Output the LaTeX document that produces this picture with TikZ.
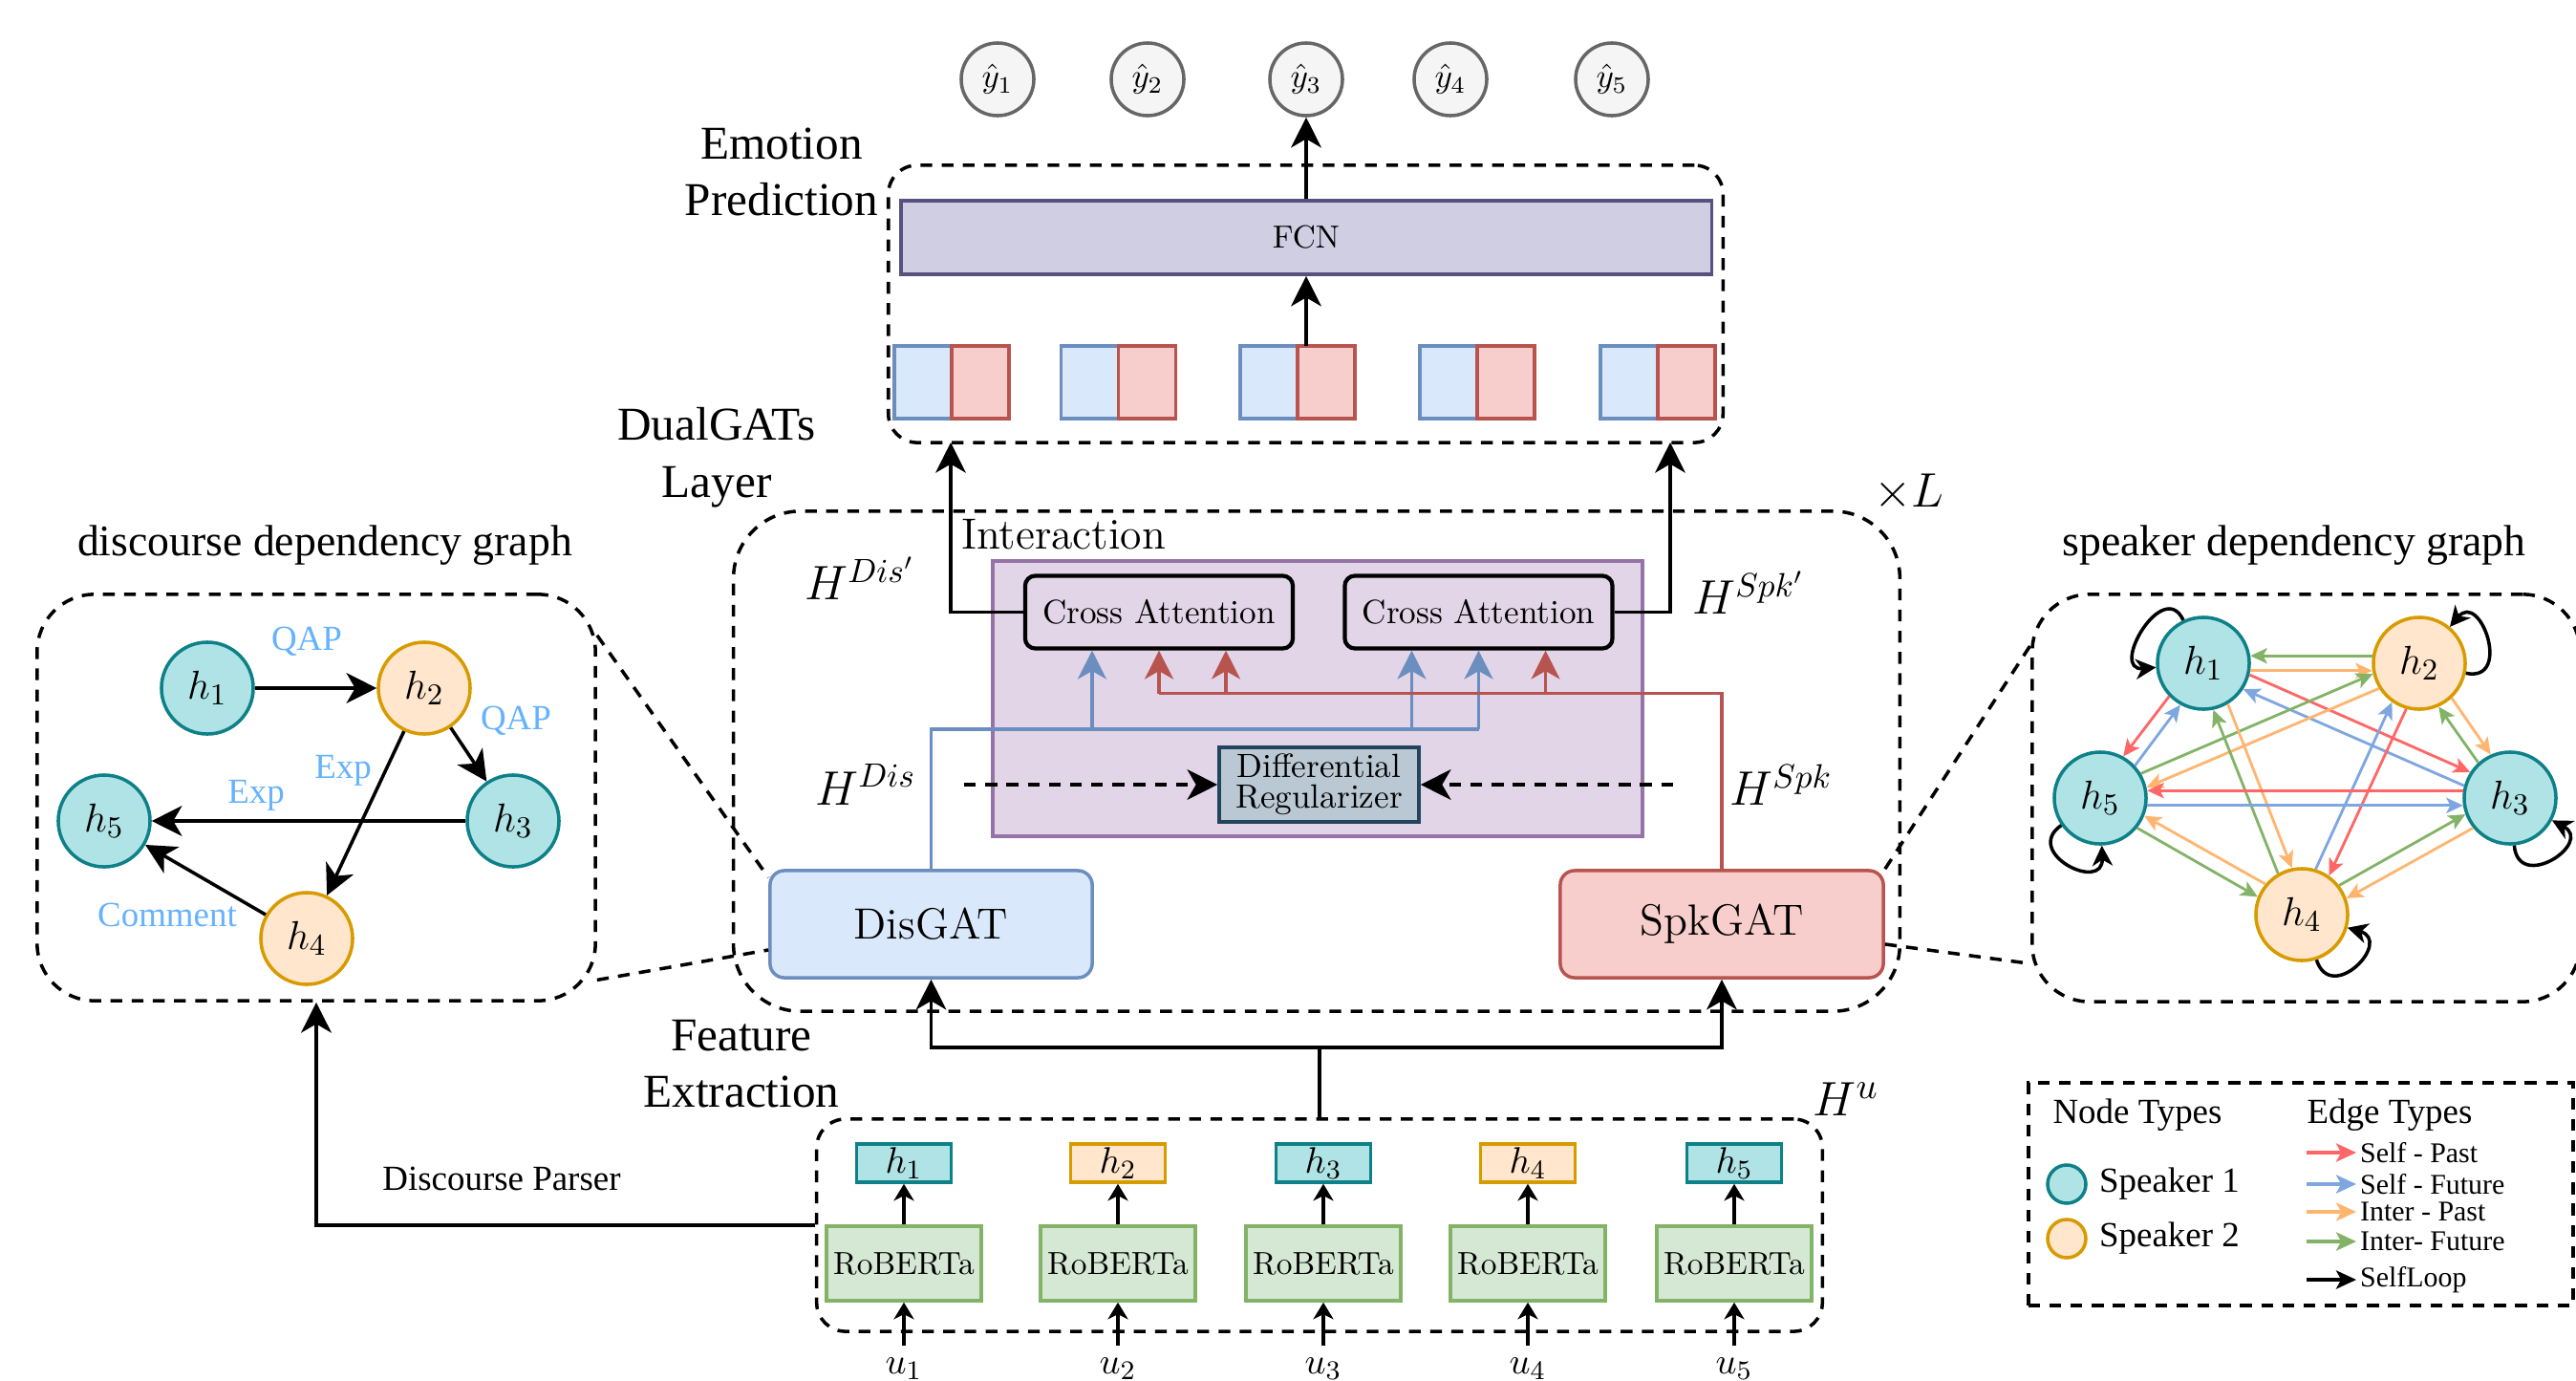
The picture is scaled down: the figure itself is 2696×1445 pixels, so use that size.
\documentclass[tikz,border=0pt]{standalone}
\usepackage{fontspec}
\newfontfamily\timesfont{Liberation Serif}
\usetikzlibrary{arrows.meta, positioning, calc}

\definecolor{tealfill}{HTML}{B0E3E6}
\definecolor{tealdraw}{HTML}{0E8088}
\definecolor{peachfill}{HTML}{FFE6CC}
\definecolor{peachdraw}{HTML}{D79B00}
\definecolor{disfill}{HTML}{DAE8FC}
\definecolor{disdraw}{HTML}{6C8EBF}
\definecolor{spkfill}{HTML}{F8CECC}
\definecolor{spkdraw}{HTML}{B85450}
\definecolor{fcnfill}{HTML}{D0CEE2}
\definecolor{fcndraw}{HTML}{56517E}
\definecolor{intfill}{HTML}{E1D5E7}
\definecolor{intdraw}{HTML}{9673A6}
\definecolor{regfill}{HTML}{BAC8D3}
\definecolor{regdraw}{HTML}{23445D}
\definecolor{robfill}{HTML}{D5E8D4}
\definecolor{robdraw}{HTML}{82B366}
\definecolor{outfill}{HTML}{F5F5F5}
\definecolor{outdraw}{HTML}{666666}
\definecolor{selfpast}{HTML}{FF6666}
\definecolor{selffut}{HTML}{7EA6E0}
\definecolor{interpast}{HTML}{FFB570}
\definecolor{interfut}{HTML}{82B366}
\definecolor{rellabel}{HTML}{66B2FF}

% speaker graph edge, shifted sideways by #4 degrees on both circles
\newcommand{\spkedge}[4]{%
  \draw[spkline, draw=#1] let \p1=($(#3)-(#2)$),
    \n1={atan2(\y1,\x1)+(#4)}, \n2={atan2(\y1,\x1)+180-(#4)} in (#2.\n1) -- (#3.\n2);}

\begin{document}
\begin{tikzpicture}[
	  x=0.01cm, y=0.01cm,
	  >={Stealth[length=9pt, width=9pt, inset=2.6pt]},
	  arr/.style={->, line width=1pt},
	  smallarr/.style={-{Stealth[length=5pt, width=6pt, inset=1.5pt]}, line width=0.9pt},
	  grouped/.style={draw, line width=1pt, dash pattern=on 3.5pt off 2.8pt, rounded corners=0.3cm},
	  dashlink/.style={draw, line width=1pt, dash pattern=on 3.5pt off 2.8pt},
	  dasharr/.style={->, line width=1pt, dash pattern=on 3.5pt off 2.8pt},
	  stagetext/.style={font=\timesfont\fontsize{14}{17}\selectfont, align=center},
	  titletext/.style={font=\timesfont\fontsize{13}{15}\selectfont},
	  reltext/.style={font=\timesfont\fontsize{10.5}{12}\selectfont, text=rellabel},
	  legtext/.style={font=\timesfont\fontsize{10.5}{12}\selectfont},
	  legsmall/.style={font=\timesfont\fontsize{8.5}{10}\selectfont, inner sep=1pt},
	  mathtext/.style={font=\fontsize{14}{17}\selectfont},
	  cmlabel/.style={font=\fontsize{13}{16}\selectfont},
	  outnode/.style={circle, draw=outdraw, fill=outfill, line width=1pt, minimum size=0.76cm, inner sep=0pt, font=\fontsize{10}{12}\selectfont},
	  fcnbox/.style={draw=fcndraw, fill=fcnfill, line width=1pt, minimum width=8.48cm, minimum height=0.77cm, font=\fontsize{9.5}{11}\selectfont},
	  disbit/.style={draw=disdraw, fill=disfill, line width=1pt, minimum width=0.6cm, minimum height=0.76cm, inner sep=0pt, outer sep=0pt},
	  spkbit/.style={draw=spkdraw, fill=spkfill, line width=1pt, minimum width=0.6cm, minimum height=0.76cm, inner sep=0pt, outer sep=0pt},
	  interbox/.style={draw=intdraw, fill=intfill, line width=1pt, minimum width=6.8cm, minimum height=2.88cm},
	  attbox/.style={draw, line width=1.2pt, rounded corners=3pt, minimum width=2.8cm, minimum height=0.76cm, font=\fontsize{10}{12}\selectfont},
	  regbox/.style={draw=regdraw, fill=regfill, line width=1pt, minimum width=2.09cm, minimum height=0.78cm, inner sep=0pt, align=center, font=\fontsize{10}{9}\selectfont},
	  gatdis/.style={draw=disdraw, fill=disfill, line width=1pt, rounded corners=0.15cm, minimum width=3.37cm, minimum height=1.12cm, font=\fontsize{13}{15}\selectfont},
	  gatspk/.style={draw=spkdraw, fill=spkfill, line width=1pt, rounded corners=0.15cm, minimum width=3.38cm, minimum height=1.12cm, font=\fontsize{13}{15}\selectfont},
	  disline/.style={draw=disdraw, line width=1pt},
	  disarr/.style={draw=disdraw, line width=1pt, -{Stealth[length=8.5pt, width=8.5pt, inset=2.4pt]}},
	  spkgline/.style={draw=spkdraw, line width=1pt},
	  spkgarr/.style={draw=spkdraw, line width=1pt, -{Stealth[length=8.5pt, width=8.5pt, inset=2.4pt]}},
	  hfbox/.style={line width=1pt, minimum width=0.99cm, minimum height=0.4cm, inner sep=0pt, font=\fontsize{11}{13}\selectfont},
	  robbox/.style={draw=robdraw, fill=robfill, line width=1pt, minimum width=1.62cm, minimum height=0.78cm, inner sep=0pt, font=\fontsize{9.5}{11}\selectfont},
	  unode/.style={font=\fontsize{11}{13}\selectfont},
	  spkone/.style={circle, draw=tealdraw, fill=tealfill, line width=1pt, minimum size=0.96cm, inner sep=0pt, font=\fontsize{13}{15}\selectfont},
	  spktwo/.style={circle, draw=peachdraw, fill=peachfill, line width=1pt, minimum size=0.96cm, inner sep=0pt, font=\fontsize{13}{15}\selectfont},
	  spkline/.style={line width=0.8pt, -{Stealth[length=5pt, width=4.6pt, inset=1.2pt]}},
	  selfloop/.style={line width=1pt, -{Stealth[length=6pt, width=6pt, inset=1.8pt]}},
	  legarr/.style={line width=0.9pt, -{Stealth[length=6pt, width=5.5pt, inset=1.5pt]}}
	]

	\useasboundingbox (0,0) rectangle (2696,-1445);

	% emotion prediction
	\foreach \i/\x in {1/1044, 2/1201, 3/1367, 4/1518, 5/1687}
	  \node[outnode] (yh\i) at (\x,-83) {$\hat{y}_\i$};
	\node[grouped, minimum width=8.73cm, minimum height=2.9cm] (emo) at (1366.5,-318) {};
	\node[stagetext] (emolabel) at (818,-180) {Emotion\\Prediction};
	\node[fcnbox] (fcn) at (1367,-248.5) {FCN};
	\foreach \i/\x in {1/966, 2/1140.5, 3/1328, 4/1516, 5/1705} {
	  \node[disbit] (cb\i) at (\x,-400) {};
	  \node[spkbit, right=0pt of cb\i] (cr\i) {};
	}
	\draw[arr] (cr3.north -| fcn.south) -- (fcn.south);
	\draw[arr] (fcn) -- (yh3);
	\coordinate (empl) at (995,-463);
	\coordinate (empr) at (1748,-463);

	% DualGATs layer
	\node[grouped, rounded corners=0.7cm, minimum width=12.2cm, minimum height=5.23cm] (dual) at (1378,-796.5) {};
	\node[stagetext] (duallabel) at (750,-479) {DualGATs\\Layer};
	\node[mathtext] (times) at (1998,-515) {$\times L$};
	\node[interbox] (inter) at (1379,-731) {};
	\node[cmlabel] (interlabel) at (1113,-559) {Interaction};
	\node[attbox] (ca1) at (1213,-640.5) {Cross Attention};
	\node[attbox] (ca2) at (1547.5,-640.5) {Cross Attention};
	\node[regbox] (reg) at (1380.5,-821) {Differential\\Regularizer};
	\node[gatdis] (disgat) at (974.5,-967) {DisGAT};
	\node[gatspk] (spkgat) at (1802,-967) {SpkGAT};
	\node[mathtext] (hdisp) at (900,-605) {$H^{Dis'}$};
	\node[mathtext] (hdis) at (906,-821) {$H^{Dis}$};
	\node[mathtext] (hspkp) at (1830,-620) {$H^{Spk'}$};
	\node[mathtext] (hspk) at (1864,-821) {$H^{Spk}$};

	\draw[arr] (ca1.west) -| (empl);
	\draw[arr] (ca2.east) -| (empr);
	\draw[disline] (disgat.north) |- ([yshift=-0.825cm]ca2.south);
	\foreach \n/\d in {ca1/-0.7, ca2/-0.7, ca2/0}
	  \draw[disarr] ([xshift=\d cm, yshift=-0.825cm]\n.south) -- ([xshift=\d cm]\n.south);
	\draw[spkgline] (spkgat.north) |- ([yshift=-0.45cm]ca1.south);
	\foreach \n/\d in {ca1/0, ca1/0.7, ca2/0.7}
	  \draw[spkgarr] ([xshift=\d cm, yshift=-0.45cm]\n.south) -- ([xshift=\d cm]\n.south);
	\draw[dasharr, shorten <=0.38cm] (hdis) -- (reg);
	\draw[dasharr, shorten <=0.47cm] (hspk) -- (reg);

	% feature extraction
	\node[grouped, minimum width=10.52cm, minimum height=2.22cm] (feat) at (1381,-1282) {};
	\node[stagetext] (featlabel) at (776,-1113) {Feature\\Extraction};
	\node[mathtext, font=\fontsize{15}{18}\selectfont] (hu) at (1932,-1150) {$H^u$};
	\foreach \i/\x/\f/\d in {1/946/tealfill/tealdraw, 2/1170/peachfill/peachdraw, 3/1385/tealfill/tealdraw, 4/1599/peachfill/peachdraw, 5/1815/tealfill/tealdraw} {
	  \node[hfbox, fill=\f, draw=\d] (hf\i) at (\x,-1217) {$h_\i$};
	  \node[robbox] (rb\i) at (\x,-1322) {RoBERTa};
	  \node[unode] (u\i) at (\x,-1432) {$u_\i$};
	  \draw[smallarr] (u\i) -- (rb\i);
	  \draw[smallarr] (rb\i) -- (hf\i);
	}
	\coordinate (fbus) at (1381,-1096);
	\draw[arr] (feat.north) -- (fbus) -| (disgat.south);
	\draw[arr] (fbus) -| (spkgat.south);

	% discourse dependency graph
	\node[grouped, rounded corners=0.6cm, minimum width=5.84cm, minimum height=4.25cm] (ddg) at (331,-834.5) {};
	\node[titletext] (ddgtitle) at (340,-571) {discourse dependency graph};
	\node[spkone] (d1) at (217,-720) {$h_1$};
	\node[spktwo] (d2) at (444,-720) {$h_2$};
	\node[spkone] (d3) at (537,-859) {$h_3$};
	\node[spktwo] (d4) at (321,-982) {$h_4$};
	\node[spkone] (d5) at (109,-859) {$h_5$};
	\draw[arr] (d1) -- (d2);
	\draw[arr] (d2) -- (d3);
	\draw[arr] (d2) -- (d4);
	\draw[arr] (d3) -- (d5);
	\draw[arr] (d4) -- (d5);
	\node[reltext] (qap1) at (321,-671) {QAP};
	\node[reltext] (qap2) at (540,-754) {QAP};
	\node[reltext] (exp1) at (359,-806) {Exp};
	\node[reltext] (exp2) at (268,-832) {Exp};
	\node[reltext] (comm) at (175,-957) {Comment};
	\draw[arr] (feat.west) -| (ddg.south);
	\node[legtext] (parser) at (525,-1233) {Discourse Parser};
	\draw[dashlink] (ddg.30) -- (disgat.164);
	\draw[dashlink] (ddg.-33) -- (disgat.189);

	% speaker dependency graph
	\node[grouped, rounded corners=0.6cm, minimum width=5.73cm, minimum height=4.26cm] (sdg) at (2413.5,-835) {};
	\node[titletext] (sdgtitle) at (2401,-571) {speaker dependency graph};
	\node[spkone] (s1) at (2306,-694) {$h_1$};
	\node[spktwo] (s2) at (2532,-694) {$h_2$};
	\node[spkone] (s3) at (2627,-835) {$h_3$};
	\node[spktwo] (s4) at (2409,-957) {$h_4$};
	\node[spkone] (s5) at (2198,-835) {$h_5$};
	\foreach \a/\b/\c/\o in {s1/s2/interpast/-9, s2/s1/interfut/-9,
	    s1/s3/selfpast/9, s3/s1/selffut/9, s5/s2/interfut/9, s2/s5/interpast/9,
	    s1/s5/selfpast/-9, s5/s1/selffut/-9, s4/s1/interfut/9, s1/s4/interpast/9,
	    s4/s2/selffut/9, s2/s4/selfpast/9, s3/s2/interfut/9, s2/s3/interpast/9,
	    s3/s5/selfpast/-9, s5/s3/selffut/-9, s5/s4/interfut/-9, s4/s5/interpast/-9,
	    s4/s3/interfut/9, s3/s4/interpast/9}
	  \spkedge{\c}{\a}{\b}{\o};
	\draw[selfloop] (s1) to[out=115, in=185, distance=0.5cm] (s1);
	\draw[selfloop] (s2) to[out=-12, in=50, distance=0.5cm] (s2);
	\draw[selfloop] (s3) to[out=-85, in=-28, distance=0.5cm] (s3);
	\draw[selfloop] (s4) to[out=-72, in=-16, distance=0.5cm] (s4);
	\draw[selfloop] (s5) to[out=-145, in=-88, distance=0.5cm] (s5);
	\draw[dashlink] (spkgat.north east) -- (sdg.151);
	\draw[dashlink] (spkgat.-7) -- (sdg.211);

	% legend
	\node[draw, line width=1pt, dash pattern=on 3.5pt off 2.8pt, minimum width=5.7cm, minimum height=2.33cm] (legend) at (2408,-1249.5) {};
	\node[legtext] (nodetypes) at (2237,-1167) {Node Types};
	\node[legtext] (edgetypes) at (2501,-1167) {Edge Types};
	\node[spkone, minimum size=0.4cm] (leg1) at (2163,-1239) {};
	\node[legtext, right=0pt of leg1] (legl1) {Speaker 1};
	\node[spktwo, minimum size=0.4cm] (leg2) at (2163,-1296) {};
	\node[legtext, right=0pt of leg2] (legl2) {Speaker 2};
	\node[legsmall, anchor=west] (lsp) at (2466,-1206) {Self - Past};
	\node[legsmall, anchor=west] (lsf) at (2466,-1239) {Self - Future};
	\node[legsmall, anchor=west] (lip) at (2466,-1268) {Inter - Past};
	\node[legsmall, anchor=west] (lif) at (2466,-1299) {Inter- Future};
	\node[legsmall, anchor=west] (lsl) at (2466,-1339) {SelfLoop};
	\draw[legarr, draw=selfpast] ([xshift=-0.52cm]lsp.west) -- (lsp.west);
	\draw[legarr, draw=selffut] ([xshift=-0.52cm]lsf.west) -- (lsf.west);
	\draw[legarr, draw=interpast] ([xshift=-0.52cm]lip.west) -- (lip.west);
	\draw[legarr, draw=interfut] ([xshift=-0.52cm]lif.west) -- (lif.west);
	\draw[legarr] ([xshift=-0.52cm]lsl.west) -- (lsl.west);

	\end{tikzpicture}
\end{document}
